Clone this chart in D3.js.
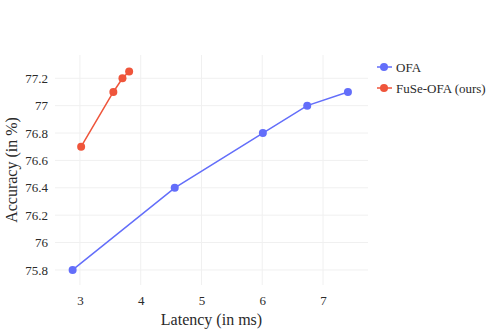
<!DOCTYPE html>
<html>
<head>
<meta charset="utf-8">
<script src="https://cdn.jsdelivr.net/npm/d3@7"></script>
<style>
  body { margin: 0; background: #fff; }
  svg text { font-family: "Liberation Serif", "Times New Roman", serif !important; fill: #2a2a2a; font-weight: normal; }
</style>
</head>
<body>
<div class="graph"></div>
<script>
const width = 498;
const height = 332;
const margin = { top: 55, right: 130, bottom: 47, left: 55 };

// data
const seriesNames = ["OFA", "FuSe-OFA (ours)"];
const seriesColors = ["#636efa", "#ef553b"];
const ofaLatency = [2.88, 4.56, 6.01, 6.74, 7.41];
const ofaAccuracy = [75.8, 76.4, 76.8, 77.0, 77.1];
const fuseLatency = [3.02, 3.55, 3.70, 3.81];
const fuseAccuracy = [76.7, 77.1, 77.2, 77.25];
const xTicks = [3, 4, 5, 6, 7];
const yTicks = [75.8, 76, 76.2, 76.4, 76.6, 76.8, 77, 77.2];

const series = [
  { name: seriesNames[0], color: seriesColors[0], xs: ofaLatency, ys: ofaAccuracy },
  { name: seriesNames[1], color: seriesColors[1], xs: fuseLatency, ys: fuseAccuracy }
];

const canvas = d3.select(".graph")
  .append("svg")
  .attr("width", width)
  .attr("height", height);

const x = d3.scaleLinear()
  .domain([2.59, 7.74])
  .range([margin.left, width - margin.right]);

const y = d3.scaleLinear()
  .domain([75.69, 77.37])
  .range([height - margin.bottom, margin.top]);

const gridColor = "#f0f0f0";
const smallFont = "13px";

// grid
canvas.append("g")
  .selectAll("line")
  .data(xTicks)
  .enter().append("line")
  .attr("x1", d => x(d)).attr("x2", d => x(d))
  .attr("y1", margin.top).attr("y2", height - margin.bottom)
  .attr("stroke", gridColor);

canvas.append("g")
  .selectAll("line")
  .data(yTicks)
  .enter().append("line")
  .attr("x1", margin.left).attr("x2", width - margin.right)
  .attr("y1", d => y(d)).attr("y2", d => y(d))
  .attr("stroke", gridColor);

// axes
const xAxis = d3.axisBottom(x).tickValues(xTicks).tickSize(0).tickPadding(11).tickFormat(d3.format("d"));
canvas.append("g")
  .attr("transform", `translate(0, ${height - margin.bottom})`)
  .call(xAxis)
  .call(g => g.select(".domain").remove())
  .selectAll("text")
  .style("font-size", smallFont);

const yAxis = d3.axisLeft(y).tickValues(yTicks).tickSize(0).tickPadding(7).tickFormat(d => String(+d.toFixed(1)));
canvas.append("g")
  .attr("transform", `translate(${margin.left}, 0)`)
  .call(yAxis)
  .call(g => g.select(".domain").remove())
  .selectAll("text")
  .style("font-size", smallFont);

canvas.append("text")
  .attr("x", (margin.left + width - margin.right) / 2)
  .attr("y", height - 7)
  .attr("text-anchor", "middle")
  .style("font-size", "16px")
  .text("Latency (in ms)");

canvas.append("text")
  .attr("transform", "rotate(-90)")
  .attr("x", -(margin.top + height - margin.bottom) / 2)
  .attr("y", 17)
  .attr("text-anchor", "middle")
  .style("font-size", "16px")
  .text("Accuracy (in %)");

// lines + markers
const line = d3.line().x(d => x(d[0])).y(d => y(d[1]));

series.forEach(s => {
  const pts = s.xs.map((v, i) => [v, s.ys[i]]);
  canvas.append("path")
    .datum(pts)
    .attr("d", line)
    .attr("fill", "none")
    .attr("stroke", s.color)
    .attr("stroke-width", 1.5);
  canvas.append("g")
    .selectAll("circle")
    .data(pts)
    .enter().append("circle")
    .attr("cx", d => x(d[0]))
    .attr("cy", d => y(d[1]))
    .attr("r", 4)
    .attr("fill", s.color);
});

// legend
const legend = canvas.append("g")
  .attr("transform", "translate(377, 67)");

const item = legend.selectAll("g")
  .data(series)
  .enter().append("g")
  .attr("transform", (d, i) => `translate(0, ${i * 21})`);

item.append("line")
  .attr("x1", 0).attr("x2", 15)
  .attr("stroke", d => d.color)
  .attr("stroke-width", 1.5);
item.append("circle")
  .attr("cx", 7).attr("r", 4)
  .attr("fill", d => d.color);
item.append("text")
  .attr("x", 19)
  .attr("y", 4.5)
  .style("font-size", smallFont)
  .text(d => d.name);
</script>
</body>
</html>
